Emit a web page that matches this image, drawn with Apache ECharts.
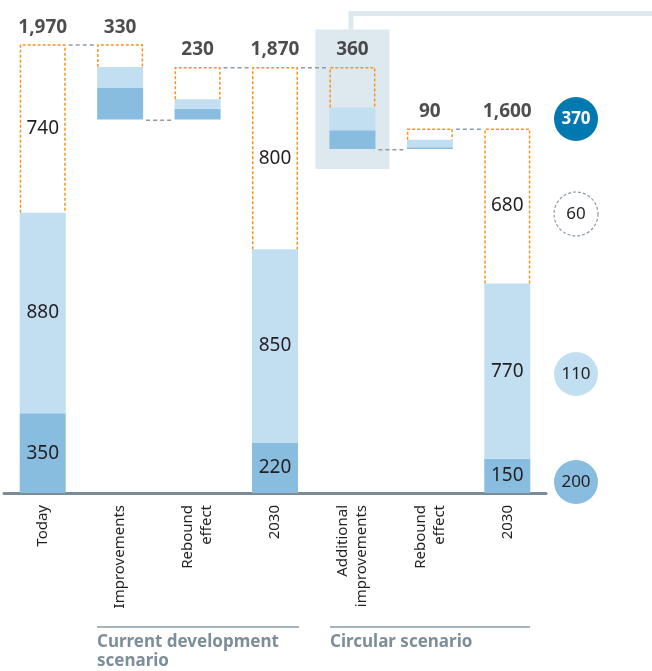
<!DOCTYPE html>
<html>
<head>
<meta charset="utf-8">
<title>Waterfall</title>
<script src="https://cdn.jsdelivr.net/npm/echarts@6/dist/echarts.min.js"></script>
<style>
html, body { margin: 0; padding: 0; background: #ffffff; }
#chart { width: 652px; height: 671px; }
</style>
</head>
<body>
<div id="chart"></div>
<script>
// categories on the x axis
const categories = ['Today', 'Improvements', 'Rebound\neffect', '2030', 'Additional\nimprovements', 'Rebound\neffect', '2030']
// total = bar from zero, down = decrease, up = increase
const stepKind = ['total', 'down', 'up', 'total', 'down', 'up', 'total']
// stacked parts of each bar (bottom to top)
const darkPart = [350, 140, 47, 220, 82, 8, 150]
const lightPart = [880, 90, 41, 850, 100, 33, 770]
const openPart = [740, 100, 142, 800, 178, 49, 680]
const showInner = [true, false, false, true, false, false, true]
// highlighted step (index, from, to)
const highlight = [[4, 2035, 1422]]
// scenario groups under the axis
const groupTexts = ['Current development\nscenario', 'Circular scenario']
// circles on the right
const circleValues = [370, 60, 110, 200]

const totals = categories.map((c, i) => darkPart[i] + lightPart[i] + openPart[i])
const base = []
const levels = []
let running = 0
stepKind.forEach((k, i) => {
  if (k === 'total') {
    base.push(0)
    running = totals[i]
  } else if (k === 'down') {
    running -= totals[i]
    base.push(running)
  } else {
    base.push(running)
    running += totals[i]
  }
  levels.push(running)
})
const connectors = levels.slice(0, -1).map((v, i) => [i, v])
// orange outline round the open (top) part
const outlines = totals.map((t, i) => [i, base[i] + darkPart[i] + lightPart[i], base[i] + t])

const BAR_W = 46
const FONT = '"Noto Sans", sans-serif'
const DARK = '#88bde0'
const LIGHT = '#c2dff2'
const ORANGE = '#f7941d'
const GREY = '#8a9aa6'

const chart = echarts.init(document.getElementById('chart'))

const innerData = arr => arr.map((v, i) => ({ value: v, label: { show: showInner[i] } }))
const innerLabel = {
  position: 'inside',
  color: '#231f20',
  fontSize: 19,
  fontFamily: FONT
}

// circles + scenario groups
const graphics = []
const circleY = [119, 214, 374, 482]
const circleFill = ['#0079b0', '#ffffff', LIGHT, DARK]
circleValues.forEach((v, i) => {
  graphics.push({
    type: 'circle',
    shape: { cx: 576, cy: circleY[i], r: 22 },
    style: {
      fill: circleFill[i],
      stroke: i === 1 ? GREY : null,
      lineWidth: i === 1 ? 1.2 : 0,
      lineDash: [3, 2]
    }
  })
  graphics.push({
    type: 'text',
    x: 576,
    y: circleY[i],
    style: {
      text: String(v),
      align: 'center',
      verticalAlign: 'middle',
      fill: i === 0 ? '#ffffff' : '#231f20',
      font: (i === 0 ? 'bold 17px ' : '17px ') + FONT
    }
  })
})
const groupX = [[97, 299], [330, 530]]
groupTexts.forEach((t, i) => {
  graphics.push({
    type: 'line',
    shape: { x1: groupX[i][0], y1: 627, x2: groupX[i][1], y2: 627 },
    style: { stroke: GREY, lineWidth: 1.5 }
  })
  graphics.push({
    type: 'text',
    x: groupX[i][0],
    y: 633,
    style: {
      text: t,
      fill: '#7d8e9a',
      font: 'bold 17px ' + FONT,
      lineHeight: 19
    }
  })
})

const option = {
  animation: false,
  grid: { left: 4, right: 106, top: 26, bottom: 178 },
  xAxis: {
    type: 'category',
    data: categories,
    axisLine: { lineStyle: { color: '#7b8c98', width: 3 } },
    axisTick: { show: false },
    axisLabel: {
      rotate: 90,
      interval: 0,
      margin: 12,
      fontSize: 15,
      lineHeight: 19,
      color: '#231f20',
      fontFamily: FONT
    }
  },
  yAxis: { type: 'value', min: 0, max: 2050, show: false },
  graphic: graphics,
  series: [
    // highlight box + bracket
    {
      type: 'custom',
      z: 0,
      silent: true,
      data: highlight,
      encode: { x: 0, y: [1, 2] },
      renderItem: (params, api) => {
        const i = api.value(0)
        const top = api.coord([i, api.value(1)])
        const bot = api.coord([i, api.value(2)])
        const w = api.size([1, 0])[0] * 0.955
        return {
          type: 'group',
          children: [
            { type: 'rect', shape: { x: top[0] - w / 2, y: top[1], width: w, height: bot[1] - top[1] }, style: { fill: '#dee8ef' } },
            { type: 'polyline', shape: { points: [[top[0] - 1.5, top[1]], [top[0] - 1.5, 13.5], [api.getWidth(), 13.5]] }, style: { stroke: '#dee8ef', lineWidth: 5, fill: null } }
          ]
        }
      }
    },
    // invisible base
    {
      type: 'bar',
      stack: 'w',
      barWidth: BAR_W,
      silent: true,
      itemStyle: { color: 'rgba(0,0,0,0)' },
      data: base
    },
    {
      type: 'bar',
      stack: 'w',
      barWidth: BAR_W,
      itemStyle: { color: DARK },
      label: innerLabel,
      data: innerData(darkPart)
    },
    {
      type: 'bar',
      stack: 'w',
      barWidth: BAR_W,
      itemStyle: { color: LIGHT },
      label: innerLabel,
      data: innerData(lightPart)
    },
    {
      type: 'bar',
      stack: 'w',
      barWidth: BAR_W,
      itemStyle: { color: 'rgba(255,255,255,0)' },
      label: innerLabel,
      data: innerData(openPart)
    },
    // orange dashed outline, open at the bottom
    {
      type: 'custom',
      z: 3,
      silent: true,
      data: outlines,
      encode: { x: 0, y: [1, 2] },
      renderItem: (params, api) => {
        const i = api.value(0)
        const lo = api.coord([i, api.value(1)])
        const hi = api.coord([i, api.value(2)])
        const x0 = lo[0] - BAR_W / 2 + 0.75
        const x1 = lo[0] + BAR_W / 2 - 0.75
        const y1 = hi[1] + 0.75
        return {
          type: 'polyline',
          shape: { points: [[x0, lo[1]], [x0, y1], [x1, y1], [x1, lo[1]]] },
          style: { stroke: ORANGE, lineWidth: 1.5, lineDash: [3, 2], fill: null }
        }
      }
    },
    // dashed connectors between steps
    {
      type: 'custom',
      z: 4,
      silent: true,
      data: connectors,
      encode: { x: 0, y: 1 },
      renderItem: (params, api) => {
        const i = api.value(0)
        const p1 = api.coord([i, api.value(1)])
        const p2 = api.coord([i + 1, api.value(1)])
        const half = BAR_W / 2 + 3
        return {
          type: 'line',
          shape: { x1: p1[0] + half, y1: p1[1] + 0.75, x2: p2[0] - half, y2: p1[1] + 0.75 },
          style: { stroke: '#8d9ca6', lineWidth: 1.5, lineDash: [4, 3] }
        }
      }
    },
    // total labels above each step
    {
      type: 'scatter',
      symbolSize: 1,
      itemStyle: { color: 'rgba(0,0,0,0)' },
      z: 5,
      data: totals.map((t, i) => [i, base[i] + t, t]),
      encode: { x: 0, y: 1 },
      label: {
        show: true,
        position: 'top',
        distance: 7,
        color: '#231f20',
        fontSize: 19,
        fontWeight: 'bold',
        fontFamily: FONT,
        formatter: p => echarts.format.addCommas(p.value[2])
      }
    }
  ]
}
chart.setOption(option)
</script>
</body>
</html>
